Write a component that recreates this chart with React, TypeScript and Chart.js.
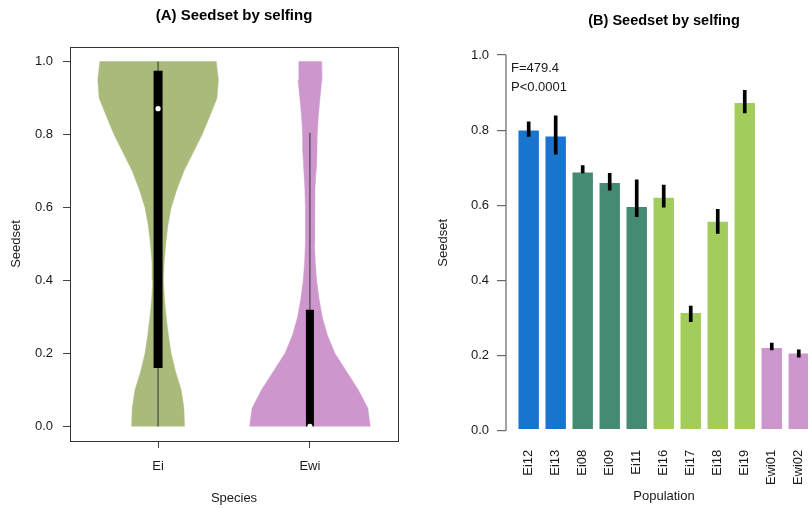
import React, { useEffect, useRef } from "react";
import { Chart, registerables } from "chart.js";

Chart.register(...registerables);

// ---------- Panel A data (violin + box) ----------
const species = ["Ei", "Ewi"];
const violinLevels = [0, 0.05, 0.1, 0.15, 0.2, 0.25, 0.3, 0.35, 0.4, 0.45, 0.5, 0.55, 0.6, 0.65, 0.7, 0.75, 0.8, 0.85, 0.9, 0.95, 1.0];
const eiHalfWidth = [0.174, 0.17, 0.152, 0.115, 0.086, 0.068, 0.053, 0.042, 0.035, 0.04, 0.05, 0.064, 0.086, 0.124, 0.17, 0.23, 0.29, 0.34, 0.388, 0.397, 0.383];
const ewiHalfWidth = [0.397, 0.381, 0.319, 0.242, 0.165, 0.115, 0.081, 0.06, 0.044, 0.035, 0.03, 0.029, 0.031, 0.033, 0.04, 0.046, 0.048, 0.055, 0.066, 0.078, 0.073];
const boxQ1 = [0.16, 0.0];
const boxQ3 = [0.975, 0.32];
const boxMedian = [0.871, 0.0];
const whiskerLow = [0.0, 0.0];
const whiskerHigh = [1.0, 0.805];
const leftYTicks = [0, 0.2, 0.4, 0.6, 0.8, 1.0];

// ---------- Panel B data (bars + error bars) ----------
const populations = ["Ei12", "Ei13", "Ei08", "Ei09", "Ei11", "Ei16", "Ei17", "Ei18", "Ei19", "Ewi01", "Ewi02"];
const seedset = [0.802, 0.786, 0.69, 0.662, 0.598, 0.623, 0.316, 0.559, 0.875, 0.223, 0.208];
const errLow = [0.783, 0.736, 0.686, 0.64, 0.57, 0.595, 0.29, 0.525, 0.846, 0.215, 0.196];
const errHigh = [0.822, 0.838, 0.706, 0.685, 0.668, 0.654, 0.332, 0.589, 0.906, 0.233, 0.215];
const popGroup = ["g1", "g1", "g2", "g2", "g2", "g3", "g3", "g3", "g3", "g4", "g4"];
const rightYTicks = [0, 0.2, 0.4, 0.6, 0.8, 1.0];
const statText = ["F=479.4", "P<0.0001"];

const FONT = "'Liberation Sans', Arial, Helvetica, sans-serif";
const TXT = "#1a1a1a";
const groupColors: Record<string, string> = { g1: "#1874CD", g2: "#458B74", g3: "#A2CD5A", g4: "#CD96CD" };
const violinColors = ["#A9BA7B", "#CD96CD"];

const framePlugin = {
  id: "frame",
  afterDatasetsDraw(chart: any) {
    const { ctx, chartArea: a } = chart;
    ctx.save();
    ctx.strokeStyle = "#333";
    ctx.lineWidth = 1;
    ctx.strokeRect(Math.round(a.left) + 0.5, Math.round(a.top) + 0.5, Math.round(a.right - a.left), Math.round(a.bottom - a.top));
    ctx.restore();
  },
};

const rAxisPlugin = {
  id: "raxis",
  afterDraw(chart: any) {
    const { ctx, chartArea: a, scales } = chart;
    const y = scales.y;
    const y0 = y.getPixelForValue(rightYTicks[0]);
    const y1 = y.getPixelForValue(rightYTicks[rightYTicks.length - 1]);
    ctx.save();
    ctx.strokeStyle = "#666";
    ctx.lineWidth = 1.2;
    ctx.beginPath();
    ctx.moveTo(a.left, y0);
    ctx.lineTo(a.left, y1);
    ctx.stroke();
    ctx.fillStyle = TXT;
    ctx.font = `13px ${FONT}`;
    ctx.textAlign = "left";
    ctx.textBaseline = "middle";
    statText.forEach((t, i) => ctx.fillText(t, a.left + 5, a.top + 28 + i * 19));
    ctx.restore();
  },
};

export default function App() {
  const leftRef = useRef<HTMLCanvasElement>(null);
  const rightRef = useRef<HTMLCanvasElement>(null);

  useEffect(() => {
    const tickFont = { family: FONT, size: 13 };
    const halfWidths = [eiHalfWidth, ewiHalfWidth];

    const leftDatasets: any[] = [];
    leftDatasets.push({
      data: species.map((_, i) => ({ x: i + 1, y: boxMedian[i] })),
      pointRadius: 2.6,
      pointBackgroundColor: "#ffffff",
      pointBorderWidth: 0,
      showLine: false,
      order: 0,
    });
    species.forEach((_, i) => {
      leftDatasets.push({
        data: [{ x: i + 1, y: boxQ1[i] }, { x: i + 1, y: boxQ3[i] }],
        showLine: true,
        borderColor: "#000",
        borderWidth: i === 0 ? 9 : 8,
        borderCapStyle: "butt",
        pointRadius: 0,
        order: 1,
      });
      leftDatasets.push({
        data: [{ x: i + 1, y: whiskerLow[i] }, { x: i + 1, y: whiskerHigh[i] }],
        showLine: true,
        borderColor: "#333",
        borderWidth: 1,
        pointRadius: 0,
        order: 2,
      });
      const hw = halfWidths[i];
      const pts = violinLevels.map((y, k) => ({ x: i + 1 - hw[k], y }));
      for (let k = violinLevels.length - 1; k >= 0; k--) pts.push({ x: i + 1 + hw[k], y: violinLevels[k] });
      leftDatasets.push({
        data: pts,
        showLine: true,
        fill: "shape",
        backgroundColor: violinColors[i],
        borderColor: violinColors[i],
        borderWidth: 0.5,
        pointRadius: 0,
        tension: 0,
        order: 3,
      });
    });

    const left = new Chart(leftRef.current!, {
      type: "scatter",
      data: { datasets: leftDatasets },
      options: {
        animation: false,
        responsive: false,
        devicePixelRatio: 1,
        layout: { padding: { left: 0, right: 22, top: 0, bottom: 0 } },
        plugins: {
          legend: { display: false },
          tooltip: { enabled: false },
          title: {
            display: true,
            text: "(A) Seedset by selfing",
            fullSize: false,
            color: "#000",
            font: { family: FONT, size: 15, weight: "bold", lineHeight: 1.2 },
            padding: { top: 6.5, bottom: 22.5 },
          },
        },
        scales: {
          x: {
            type: "linear",
            min: 0.42,
            max: 2.58,
            afterBuildTicks: (s: any) => {
              s.ticks = species.map((_, i) => ({ value: i + 1 }));
            },
            afterFit: (s: any) => {
              s.height = 67;
            },
            ticks: {
              callback: (v: any) => species[Math.round(v) - 1],
              font: tickFont,
              color: TXT,
              padding: 11,
              autoSkip: false,
              maxRotation: 0,
            },
            grid: { drawOnChartArea: false, drawTicks: true, tickLength: 7, tickColor: "#444", color: "#444" },
            border: { display: false },
            title: { display: true, text: "Species", color: TXT, font: { family: FONT, size: 13, lineHeight: 1.2 }, padding: { top: 0, bottom: 2.2 } },
          },
          y: {
            type: "linear",
            min: -0.04,
            max: 1.04,
            afterBuildTicks: (s: any) => {
              s.ticks = leftYTicks.map((v) => ({ value: v }));
            },
            afterFit: (s: any) => {
              s.width = 70;
            },
            ticks: {
              callback: (v: any) => Number(v).toFixed(1),
              font: tickFont,
              color: TXT,
              padding: 10,
            },
            grid: { drawOnChartArea: false, drawTicks: true, tickLength: 7, tickColor: "#444", color: "#444" },
            border: { display: false },
            title: { display: true, text: "Seedset", color: TXT, font: { family: FONT, size: 13, lineHeight: 1.2 }, padding: { top: 8.2, bottom: 0 } },
          },
        },
      },
      plugins: [framePlugin],
    } as any);

    const right = new Chart(rightRef.current!, {
      type: "bar",
      data: {
        datasets: [
          {
            data: populations.map((_, i) => ({ x: i + 1, y: [errLow[i], errHigh[i]] })),
            backgroundColor: "#000",
            barThickness: 3,
            grouped: false,
            order: 0,
          } as any,
          {
            data: populations.map((_, i) => ({ x: i + 1, y: seedset[i] })),
            backgroundColor: popGroup.map((g) => groupColors[g]),
            borderColor: "rgba(255,255,255,0.45)",
            borderWidth: 1,
            borderSkipped: false,
            barPercentage: 0.83,
            categoryPercentage: 1,
            grouped: false,
            order: 1,
          } as any,
        ],
      },
      options: {
        animation: false,
        responsive: false,
        devicePixelRatio: 1,
        layout: { padding: { left: 0, right: 8, top: 0, bottom: 0 } },
        plugins: {
          legend: { display: false },
          tooltip: { enabled: false },
          title: {
            display: true,
            text: "(B) Seedset by selfing",
            fullSize: false,
            color: "#000",
            font: { family: FONT, size: 14.5, weight: "bold", lineHeight: 1.2 },
            padding: { top: 12.5, bottom: 10.1 },
          },
        },
        scales: {
          x: {
            type: "linear",
            min: 0.16,
            max: 11.86,
            offset: false,
            afterBuildTicks: (s: any) => {
              s.ticks = populations.map((_, i) => ({ value: i + 1 }));
            },
            afterFit: (s: any) => {
              s.height = 62.3;
            },
            ticks: {
              callback: (v: any) => populations[Math.round(v) - 1],
              font: tickFont,
              color: TXT,
              padding: 4,
              autoSkip: false,
              minRotation: 90,
              maxRotation: 90,
            },
            grid: { display: false, drawTicks: false, offset: false },
            border: { display: false },
            title: { display: true, text: "Population", color: TXT, font: { family: FONT, size: 13, lineHeight: 1.2 }, padding: { top: 0, bottom: 4.2 } },
          },
          y: {
            type: "linear",
            min: -0.04,
            max: 1.04,
            afterBuildTicks: (s: any) => {
              s.ticks = rightYTicks.map((v) => ({ value: v }));
            },
            afterFit: (s: any) => {
              s.width = 86;
            },
            ticks: {
              callback: (v: any) => Number(v).toFixed(1),
              font: tickFont,
              color: TXT,
              padding: 8,
            },
            grid: { drawOnChartArea: false, drawTicks: true, tickLength: 9, tickColor: "#666", color: "#666", lineWidth: 1.2 },
            border: { display: false },
            title: { display: true, text: "Seedset", color: TXT, font: { family: FONT, size: 13, lineHeight: 1.2 }, padding: { top: 16, bottom: 0 } },
          },
        },
      },
      plugins: [rAxisPlugin],
    } as any);

    return () => {
      left.destroy();
      right.destroy();
    };
  }, []);

  return (
    <div style={{ position: "fixed", left: 0, top: 0, width: 808, height: 508, overflow: "hidden", background: "#fff" }}>
      <div style={{ position: "absolute", left: 0, top: 0, width: 420, height: 508 }}>
        <canvas ref={leftRef} width={420} height={508} />
      </div>
      <div style={{ position: "absolute", left: 420, top: 0, width: 410, height: 508 }}>
        <canvas ref={rightRef} width={410} height={508} />
      </div>
    </div>
  );
}
